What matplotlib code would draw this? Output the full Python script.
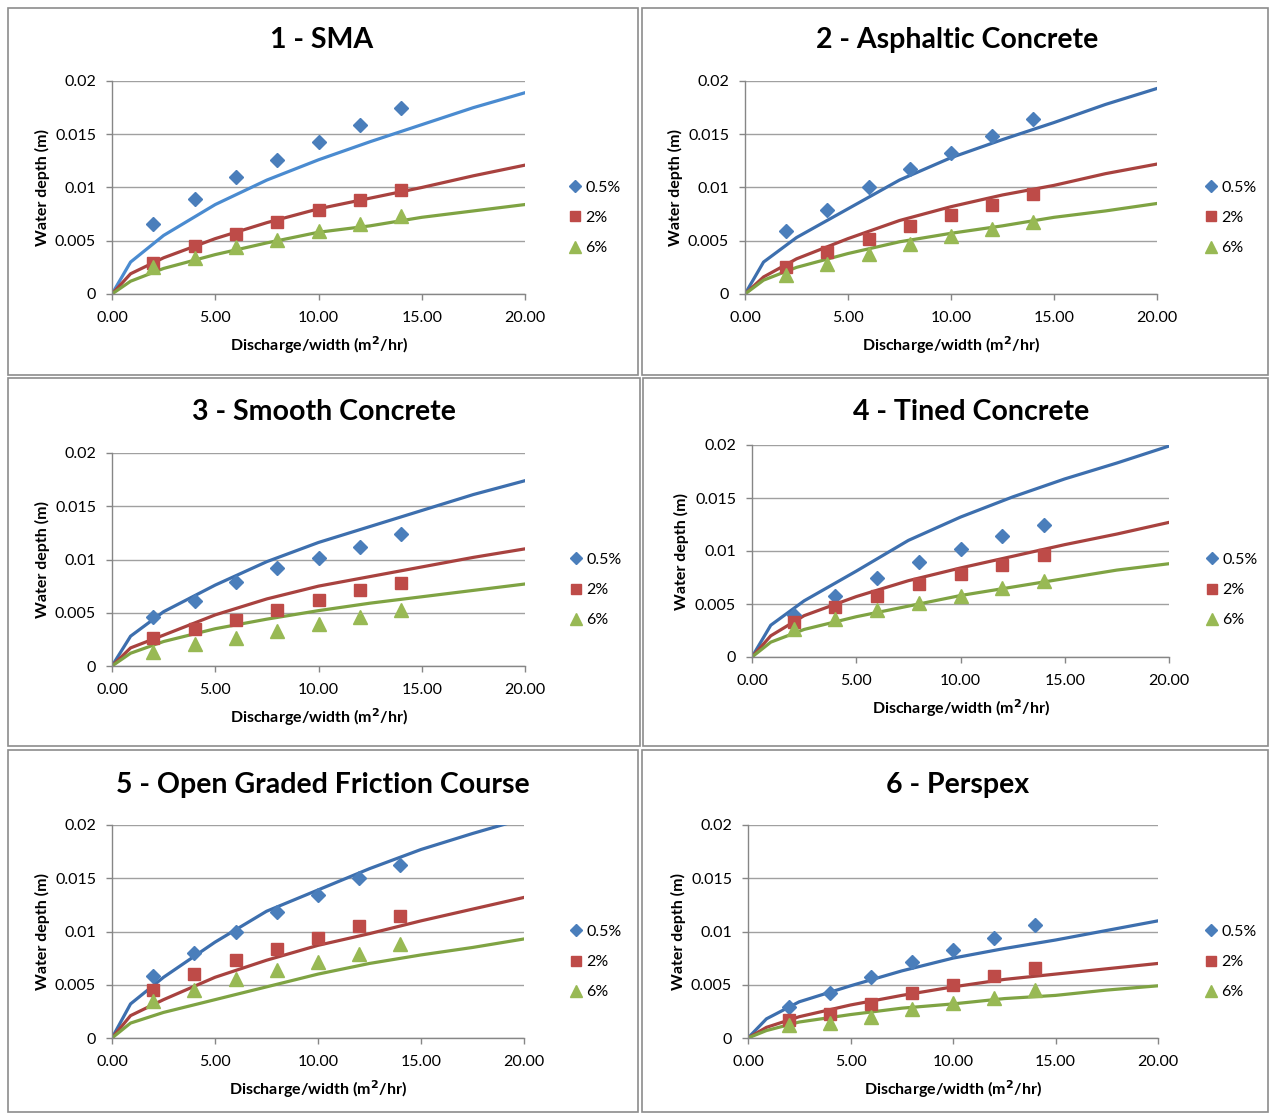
import matplotlib.pyplot as plt
from matplotlib.patches import Rectangle

plt.rcParams['font.family'] = ['Lato', 'DejaVu Sans']

# ---- data -------------------------------------------------------------
titles = ['1 - SMA', '2 - Asphaltic Concrete', '3 - Smooth Concrete',
          '4 - Tined Concrete', '5 - Open Graded Friction Course', '6 - Perspex']
slopes = ['0.5%', '2%', '6%']

q_meas = [2, 4, 6, 8, 10, 12, 14]                       # measured discharge/width
q_model = [0, 0.9, 2.5, 5, 7.5, 10, 12.5, 15, 17.5, 20]  # model curve discharge/width

# measured water depth (m), one list per slope
sma_05 = [0.0066, 0.0089, 0.0110, 0.0126, 0.0143, 0.0159, 0.0175]
sma_2 = [0.0029, 0.0045, 0.0056, 0.0068, 0.0079, 0.0088, 0.0098]
sma_6 = [0.0025, 0.0034, 0.0044, 0.0051, 0.0059, 0.0066, 0.0073]
ac_05 = [0.0059, 0.0079, 0.0100, 0.0117, 0.0132, 0.0148, 0.0164]
ac_2 = [0.0025, 0.0039, 0.0052, 0.0064, 0.0074, 0.0084, 0.0094]
ac_6 = [0.0018, 0.0028, 0.0038, 0.0047, 0.0054, 0.0061, 0.0068]
smc_05 = [0.0046, 0.0061, 0.0079, 0.0092, 0.0101, 0.0112, 0.0124]
smc_2 = [0.0026, 0.0035, 0.0043, 0.0053, 0.0062, 0.0071, 0.0078]
smc_6 = [0.0013, 0.0021, 0.0026, 0.0033, 0.0039, 0.0046, 0.0053]
tc_05 = [0.0040, 0.0058, 0.0075, 0.0090, 0.0102, 0.0114, 0.0125]
tc_2 = [0.0033, 0.0047, 0.0058, 0.0069, 0.0078, 0.0087, 0.0096]
tc_6 = [0.0026, 0.0036, 0.0044, 0.0051, 0.0058, 0.0065, 0.0072]
ogfc_05 = [0.0058, 0.0080, 0.0100, 0.0118, 0.0134, 0.0150, 0.0162]
ogfc_2 = [0.0045, 0.0060, 0.0073, 0.0084, 0.0094, 0.0105, 0.0115]
ogfc_6 = [0.0035, 0.0045, 0.0055, 0.0064, 0.0071, 0.0079, 0.0088]
psp_05 = [0.0029, 0.0042, 0.0057, 0.0071, 0.0083, 0.0094, 0.0106]
psp_2 = [0.0017, 0.0023, 0.0032, 0.0042, 0.0050, 0.0058, 0.0066]
psp_6 = [0.0012, 0.0014, 0.0020, 0.0027, 0.0033, 0.0038, 0.0045]

# model water depth (m) at q_model
sma_05_fit = [0, 0.0030, 0.0055, 0.0084, 0.0107, 0.0126, 0.0143, 0.0159, 0.0175, 0.0189]
sma_2_fit = [0, 0.0019, 0.0034, 0.0052, 0.0067, 0.0080, 0.0090, 0.0100, 0.0111, 0.0121]
sma_6_fit = [0, 0.0012, 0.0024, 0.0037, 0.0048, 0.0058, 0.0064, 0.0072, 0.0078, 0.0084]
ac_05_fit = [0, 0.0030, 0.0053, 0.0080, 0.0107, 0.0128, 0.0145, 0.0161, 0.0178, 0.0193]
ac_2_fit = [0, 0.0016, 0.0033, 0.0052, 0.0069, 0.0082, 0.0093, 0.0102, 0.0113, 0.0122]
ac_6_fit = [0, 0.0013, 0.0025, 0.0038, 0.0049, 0.0057, 0.0064, 0.0072, 0.0078, 0.0085]
smc_05_fit = [0, 0.0028, 0.0051, 0.0076, 0.0098, 0.0116, 0.0131, 0.0146, 0.0161, 0.0174]
smc_2_fit = [0, 0.0017, 0.0029, 0.0048, 0.0063, 0.0075, 0.0084, 0.0093, 0.0102, 0.0110]
smc_6_fit = [0, 0.0012, 0.0023, 0.0035, 0.0044, 0.0052, 0.0059, 0.0065, 0.0071, 0.0077]
tc_05_fit = [0, 0.0030, 0.0053, 0.0081, 0.0110, 0.0132, 0.0151, 0.0168, 0.0183, 0.0199]
tc_2_fit = [0, 0.0020, 0.0039, 0.0057, 0.0072, 0.0084, 0.0095, 0.0106, 0.0116, 0.0127]
tc_6_fit = [0, 0.0014, 0.0026, 0.0038, 0.0048, 0.0058, 0.0066, 0.0074, 0.0082, 0.0088]
ogfc_05_fit = [0, 0.0032, 0.0057, 0.0090, 0.0119, 0.0139, 0.0159, 0.0177, 0.0192, 0.0206]
ogfc_2_fit = [0, 0.0021, 0.0036, 0.0057, 0.0073, 0.0087, 0.0098, 0.0110, 0.0121, 0.0132]
ogfc_6_fit = [0, 0.0014, 0.0024, 0.0036, 0.0048, 0.0060, 0.0070, 0.0078, 0.0085, 0.0093]
psp_05_fit = [0, 0.0018, 0.0034, 0.0049, 0.0063, 0.0075, 0.0084, 0.0092, 0.0101, 0.0110]
psp_2_fit = [0, 0.0010, 0.0020, 0.0031, 0.0040, 0.0048, 0.0055, 0.0060, 0.0065, 0.0070]
psp_6_fit = [0, 0.0007, 0.0015, 0.0022, 0.0028, 0.0032, 0.0037, 0.0040, 0.0045, 0.0049]

measured = [[sma_05, sma_2, sma_6], [ac_05, ac_2, ac_6], [smc_05, smc_2, smc_6],
            [tc_05, tc_2, tc_6], [ogfc_05, ogfc_2, ogfc_6], [psp_05, psp_2, psp_6]]
model = [[sma_05_fit, sma_2_fit, sma_6_fit], [ac_05_fit, ac_2_fit, ac_6_fit],
         [smc_05_fit, smc_2_fit, smc_6_fit], [tc_05_fit, tc_2_fit, tc_6_fit],
         [ogfc_05_fit, ogfc_2_fit, ogfc_6_fit], [psp_05_fit, psp_2_fit, psp_6_fit]]

y_ticks = [0, 0.005, 0.01, 0.015, 0.02]
y_labels = ['0', '0.005', '0.01', '0.015', '0.02']
x_ticks = [0, 5, 10, 15, 20]

# ---- layout (pixels) --------------------------------------------------
W, H = 1270, 1113
boxes = [(8, 8, 638, 375), (642, 8, 1268, 375), (8, 378, 640, 746),
         (643, 378, 1268, 746), (8, 750, 638, 1112), (642, 750, 1268, 1112)]
plots = [(112, 81, 525, 294), (745, 81, 1157, 294), (112, 453, 525, 666),
         (752, 445, 1169, 657), (112, 825, 524, 1038), (748, 825, 1158, 1038)]
title_xy = [(322, 40), (957, 40), (324, 412), (971, 412), (323, 785), (958, 785)]
legend_xy = [(575, 218), (1211, 218), (576, 590), (1212, 590), (576, 962), (1211, 962)]

marker_cols = ['#4A7EBB', '#BE4B48', '#98B954']
line_cols = ['#3D6FAE', '#A8423F', '#7FA343']
markers = ['D', 's', '^']
msizes = [7.5, 9, 9.5]

fig = plt.figure(figsize=(W / 100, H / 100), dpi=100)

for i in range(6):
    bx0, by0, bx1, by1 = boxes[i]
    fig.patches.append(Rectangle((bx0 / W, 1 - by1 / H), (bx1 - bx0) / W, (by1 - by0) / H,
                                 transform=fig.transFigure, fill=False,
                                 edgecolor='#8C8C8C', linewidth=1.2))
    x0, y0, x1, y1 = plots[i]
    ax = fig.add_axes([x0 / W, 1 - y1 / H, (x1 - x0) / W, (y1 - y0) / H])

    for k in range(3):
        lc = line_cols[k]
        if i == 0 and k == 0:
            lc = '#4A8BD0'
        ax.plot(q_model, model[i][k], color=lc, lw=2.3, zorder=2,
                solid_joinstyle='round')
    handles = []
    for k in range(3):
        h, = ax.plot(q_meas, measured[i][k], linestyle='none', marker=markers[k],
                     ms=msizes[k], color=marker_cols[k], mec=marker_cols[k],
                     label=slopes[k], zorder=3)
        handles.append(h)

    ax.set_xlim(0, 20)
    ax.set_ylim(0, 0.02)
    ax.set_xticks(x_ticks)
    ax.set_xticklabels(['%.2f' % v for v in x_ticks])
    ax.set_yticks(y_ticks)
    ax.set_yticklabels(y_labels)
    ax.grid(axis='y', color='#A0A0A0', lw=1.0)
    ax.set_axisbelow(True)
    for s in ['top', 'right']:
        ax.spines[s].set_visible(False)
    for s in ['left', 'bottom']:
        ax.spines[s].set_color('#868686')
        ax.spines[s].set_linewidth(1.0)
    ax.tick_params(axis='both', direction='out', length=4, width=1.0, color='#868686',
                   labelsize=11.5)
    ax.tick_params(axis='x', pad=8.5)
    ax.tick_params(axis='y', pad=7.5)

    ax.set_xlabel('Discharge/width (m$^\\mathbf{2}$/hr)', fontsize=11.5, fontweight='bold')
    ax.xaxis.set_label_coords(0.5, -0.19)
    ax.set_ylabel('Water depth (m)', fontsize=11.5, fontweight='bold')
    ax.yaxis.set_label_coords(-0.15, 0.5)

    tx, ty = title_xy[i]
    fig.text(tx / W, 1 - ty / H, titles[i], ha='center', va='center',
             fontsize=20.5, fontweight='bold')

    lx, ly = legend_xy[i]
    fs = 11.5
    left_px = lx - 0.4 * fs * 100 / 72
    ax.legend(handles=handles, loc='center left', frameon=False, fontsize=fs,
              handlelength=0.8, handletextpad=0.25, borderpad=0, borderaxespad=0,
              labelspacing=1.0, markerscale=0.85, numpoints=1,
              bbox_to_anchor=((left_px - x0) / (x1 - x0), (y1 - ly) / (y1 - y0)))

fig.savefig('out.png', dpi=100)
